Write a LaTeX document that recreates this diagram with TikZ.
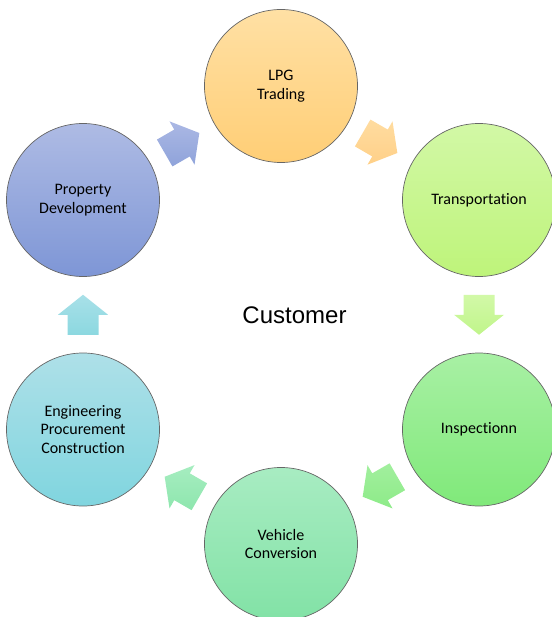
\documentclass[tikz,border=0pt]{standalone}
\usepackage{fontspec}
\setmainfont{Carlito}[Ligatures={NoCommon}]
\newfontfamily\arialfont{Liberation Sans}
\usetikzlibrary{calc}
\definecolor{lpgT}{HTML}{FFE0A4}
\definecolor{lpgB}{HTML}{FFCE76}
\definecolor{trT}{HTML}{D2F8A6}
\definecolor{trB}{HTML}{BEF47A}
\definecolor{inT}{HTML}{A8F0A4}
\definecolor{inB}{HTML}{80E97A}
\definecolor{veT}{HTML}{A8ECC2}
\definecolor{veB}{HTML}{82E2A6}
\definecolor{epT}{HTML}{AEE0E8}
\definecolor{epB}{HTML}{80D5DF}
\definecolor{prT}{HTML}{AEBBE4}
\definecolor{prB}{HTML}{7E96D6}
\definecolor{aPT}{HTML}{ABB8E4}
\definecolor{aPB}{HTML}{8FA3DA}
\definecolor{aLT}{HTML}{FFDCA0}
\definecolor{aLB}{HTML}{FFD088}
\definecolor{aTT}{HTML}{D2F9A8}
\definecolor{aTB}{HTML}{C0F58A}
\definecolor{aIT}{HTML}{A2EF9E}
\definecolor{aIB}{HTML}{8DEB88}
\definecolor{aVT}{HTML}{A6EDC0}
\definecolor{aVB}{HTML}{8EE6AE}
\definecolor{aET}{HTML}{A8E0E8}
\definecolor{aEB}{HTML}{8CD8E0}
\tikzset{
  pics/flow/.style 2 args={code={
    \path[top color=#1, bottom color=#2]
      (-20,-15.5) -- (0,-15.5) -- (0,-25) -- (20,0) -- (0,25) -- (0,15.5) -- (-20,15.5) -- cycle;
  }}
}
\begin{document}
\begin{tikzpicture}[x=1pt,y=1pt,
  stage/.style={circle, minimum size=153pt, inner sep=0pt, draw=black!60, line width=0.7pt,
    align=center, font=\fontsize{16}{18.5}\selectfont, text=black}]
\useasboundingbox (0,0) rectangle (551,-617);
\node[stage, top color=lpgT, bottom color=lpgB] (lpg) at (281,-86) {LPG\\Trading};
\node[stage, top color=trT, bottom color=trB] (tr) at (479,-200) {Transportation};
\node[stage, top color=inT, bottom color=inB] (ins) at (479,-429.5) {Inspectionn};
\node[stage, top color=veT, bottom color=veB] (veh) at (281,-544) {Vehicle\\Conversion};
\node[stage, top color=epT, bottom color=epB] (epc) at (83,-429.5) {Engineering\\Procurement\\Construction};
\node[stage, top color=prT, bottom color=prB] (prop) at (83,-200) {Property\\Development};
\node[font=\arialfont\fontsize{24}{28}\selectfont, inner sep=0pt] (cust) at (294.5,-315) {Customer};
\pic[rotate=30] at ($(prop)!0.5!(lpg)$) {flow={aPT}{aPB}};
\pic[rotate=-30] at ($(lpg)!0.5!(tr)$) {flow={aLT}{aLB}};
\pic[rotate=-90] at ($(tr)!0.5!(ins)$) {flow={aTT}{aTB}};
\pic[rotate=-150] at ($(ins)!0.5!(veh)$) {flow={aIT}{aIB}};
\pic[rotate=150] at ($(veh)!0.5!(epc)$) {flow={aVT}{aVB}};
\pic[rotate=90] at ($(epc)!0.5!(prop)$) {flow={aET}{aEB}};
\end{tikzpicture}
\end{document}
